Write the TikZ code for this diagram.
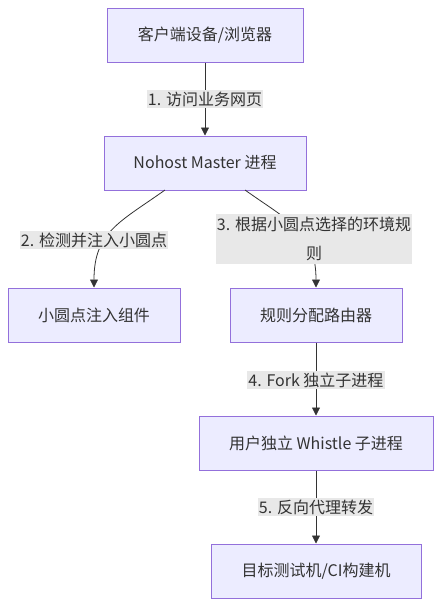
\documentclass[tikz,border=0pt]{standalone}
\usepackage{fontspec}
\setmainfont{Noto Sans CJK SC}
\usetikzlibrary{arrows.meta}
\definecolor{boxfill}{HTML}{ECECFF}
\definecolor{boxline}{HTML}{9370DB}
\definecolor{lblbg}{HTML}{E8E8E8}
\definecolor{edge}{HTML}{333333}
\definecolor{txt}{HTML}{333333}
\begin{document}
\begin{tikzpicture}[x=1pt,y=-1pt,
  box/.style={draw=boxline,fill=boxfill,line width=1pt,minimum height=54pt,inner sep=0pt,text=txt,font=\fontsize{16}{19}\selectfont},
  lbl/.style={fill=lblbg,inner xsep=1pt,inner ysep=2pt,text=txt,font=\fontsize{16}{24}\selectfont,align=center},
  arr/.style={draw=edge,line width=0.8pt,-{Triangle[length=8pt,width=8pt]}}]
\useasboundingbox (0,0) rectangle (441,606);
\node[box,minimum width=196pt] (b1) at (205,35) {客户端设备/浏览器};
\node[box,minimum width=202pt] (b2) at (205,163) {Nohost Master 进程};
\node[box,minimum width=172pt] (b3) at (94,315) {小圆点注入组件};
\node[box,minimum width=172pt] (b4) at (316,315) {规则分配路由器};
\node[box,minimum width=234pt] (b5) at (316,443) {用户独立 Whistle 子进程};
\node[box,minimum width=210pt] (b6) at (316,571) {目标测试机/CI构建机};
\coordinate (s2) at (165,190);
\coordinate (s3) at (245,190);
\draw[arr] (b1.south) -- (b2.north);
\draw[arr] (s2) .. controls (120,222) and (94,232) .. (b3.north);
\draw[arr] (s3) .. controls (290,222) and (316,232) .. (b4.north);
\draw[arr] (b4.south) -- (b5.north);
\draw[arr] (b5.south) -- (b6.north);
\node[lbl] (l1) at (205,99) {1. 访问业务网页};
\node[lbl] (l2) at (94,240) {2. 检测并注入小圆点};
\node[lbl,minimum width=196pt,inner ysep=3pt] (l3) at (314,239) {3. 根据小圆点选择的环境规\\[5pt]则};
\node[lbl] (l4) at (316,380) {4. Fork 独立子进程};
\node[lbl] (l5) at (316,507) {5. 反向代理转发};
\end{tikzpicture}
\end{document}
